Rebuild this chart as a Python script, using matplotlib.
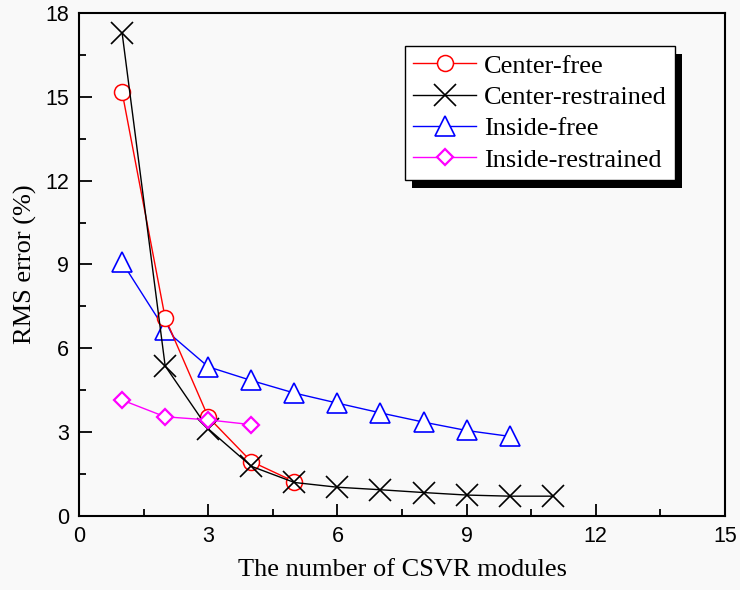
import matplotlib.pyplot as plt
from matplotlib.patches import Rectangle
from matplotlib.ticker import MultipleLocator

# RMS error (%) against the number of CSVR modules
n_center_free = [1, 2, 3, 4, 5]
center_free = [15.17, 7.09, 3.54, 1.95, 1.23]

n_center_restrained = [1, 2, 3, 4, 5, 6, 7, 8, 9, 10, 11]
center_restrained = [17.29, 5.37, 3.12, 1.78, 1.20, 1.03, 0.94, 0.84, 0.75, 0.71, 0.71]

n_inside_free = [1, 2, 3, 4, 5, 6, 7, 8, 9, 10]
inside_free = [9.08, 6.66, 5.34, 4.85, 4.40, 4.04, 3.69, 3.36, 3.06, 2.85]

n_inside_restrained = [1, 2, 3, 4]
inside_restrained = [4.15, 3.55, 3.44, 3.27]

serif = ['Liberation Serif', 'DejaVu Serif']
sans = ['Liberation Sans', 'DejaVu Sans']
bg = '#f9f9f9'

fig = plt.figure(figsize=(7.4, 5.9), dpi=100, facecolor=bg)
ax = fig.add_axes([0.1068, 0.1254, 0.8729, 0.8526], facecolor=bg)

ax.plot(n_center_free, center_free, color='red', lw=1, marker='o', ms=11.5,
        mfc='white', mec='red', mew=1.1, label='Center-free', zorder=3)
ax.plot(n_center_restrained, center_restrained, color='black', lw=1, marker='x',
        ms=16, mec='black', mew=1.2, label='Center-restrained', zorder=3)
ax.plot(n_inside_free, inside_free, color='blue', lw=1, marker='^', ms=14,
        mfc='white', mec='blue', mew=1.2, label='Inside-free', zorder=2)
ax.plot(n_inside_restrained, inside_restrained, color='magenta', lw=1, marker='D',
        ms=8, mfc='white', mec='magenta', mew=1.6, label='Inside-restrained', zorder=4)

ax.set_xlim(0, 15)
ax.set_ylim(0, 18)
ax.xaxis.set_major_locator(MultipleLocator(3))
ax.xaxis.set_minor_locator(MultipleLocator(1.5))
ax.yaxis.set_major_locator(MultipleLocator(3))
ax.yaxis.set_minor_locator(MultipleLocator(1.5))
ax.tick_params(which='both', direction='in', top=False, right=False, width=1.3)
ax.tick_params(which='major', length=9, pad=7)
ax.tick_params(which='minor', length=5)
for lbl in ax.get_xticklabels() + ax.get_yticklabels():
    lbl.set_family(sans)
    lbl.set_fontsize(15.5)
for sp in ax.spines.values():
    sp.set_linewidth(1.5)

ax.set_xlabel('The number of CSVR modules', family=serif, fontsize=19, labelpad=9)
ax.set_ylabel('RMS error (%)', family=serif, fontsize=19, labelpad=6)

leg = ax.legend(loc='upper right', bbox_to_anchor=(0.9226, 0.934), prop={'family': serif, 'size': 19},
                frameon=True, fancybox=False, edgecolor='black', facecolor='white',
                framealpha=1, handlelength=2.4, handletextpad=0.3, labelspacing=0.3,
                borderpad=0.3, borderaxespad=0)
leg.get_frame().set_linewidth(1)
leg.set_zorder(6)

# solid drop shadow behind the legend box
fig.canvas.draw()
bb = leg.get_window_extent()
(x0, y0), (x1, y1) = ax.transAxes.inverted().transform([[bb.x0 + 7, bb.y0 - 8], [bb.x1 + 7, bb.y1 - 8]])
ax.add_patch(Rectangle((x0, y0), x1 - x0, y1 - y0, transform=ax.transAxes,
                       facecolor='black', edgecolor='none', zorder=5, clip_on=False))

fig.savefig('out.png', dpi=100, facecolor=bg)
